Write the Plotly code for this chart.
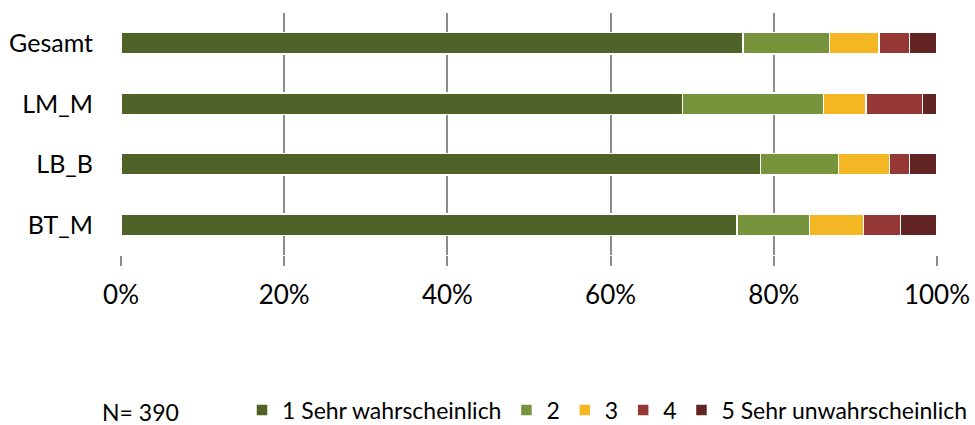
import plotly.graph_objects as go

categories = ["Gesamt", "LM_M", "LB_B", "BT_M"]
series_names = ["1 Sehr wahrscheinlich", "2", "3", "4", "5 Sehr unwahrscheinlich"]
s1 = [76.2, 68.8, 78.4, 75.5]
s2 = [10.6, 17.3, 9.5, 8.9]
s3 = [6.1, 5.2, 6.3, 6.6]
s4 = [3.7, 6.9, 2.4, 4.5]
s5 = [3.4, 1.8, 3.4, 4.5]
colors = ["#4F6228", "#77933C", "#F4B622", "#953735", "#632523"]
tick_vals = [0, 20, 40, 60, 80, 100]
tick_text = ["0%", "20%", "40%", "60%", "80%", "100%"]

FONT = "Lato, 'Open Sans', sans-serif"
L, R, T, B = 121, 38, 13, 170
PW, PH = 975 - L - R, 425 - T - B
LEG_Y = 410

fig = go.Figure()
for name, vals, col in zip(series_names, [s1, s2, s3, s4, s5], colors):
    fig.add_trace(go.Bar(
        y=categories, x=vals, name=name, orientation="h",
        marker=dict(color=col, line=dict(color="white", width=1.5)),
    ))

fig.update_layout(
    barmode="stack",
    bargap=0.64,
    width=975, height=425,
    margin=dict(l=L, r=R, t=T, b=B, autoexpand=False),
    plot_bgcolor="white", paper_bgcolor="white",
    font=dict(family=FONT, color="#000000"),
    showlegend=True,
    legend=dict(orientation="h", x=(242 - L) / PW, xanchor="left",
                y=(T + PH - LEG_Y) / PH, yanchor="middle",
                font=dict(size=23, family=FONT), traceorder="normal",
                itemwidth=30, tracegroupgap=0),
    xaxis=dict(range=[0, 100], tickvals=tick_vals, ticktext=tick_text,
               showgrid=True, gridcolor="#8C8C8C", gridwidth=2,
               ticks="outside", ticklen=10, tickwidth=2, tickcolor="#8C8C8C",
               tickfont=dict(size=26, family=FONT), zeroline=False, showline=False,
               ticklabelstandoff=7, automargin=False),
    yaxis=dict(categoryorder="array", categoryarray=categories[::-1],
               tickfont=dict(size=25, family=FONT), showgrid=False,
               showline=False, ticks="", ticklabelstandoff=27, automargin=False),
    annotations=[dict(text="N= 390", x=(140 - L) / PW, y=(T + PH - LEG_Y - 2) / PH,
                      xref="paper", yref="paper", xanchor="center", yanchor="middle",
                      showarrow=False, font=dict(size=23, family=FONT))],
)
fig.write_html("out.html", config={"displayModeBar": False},
               post_script="document.body.style.margin='0px';document.body.style.overflow='hidden';")
